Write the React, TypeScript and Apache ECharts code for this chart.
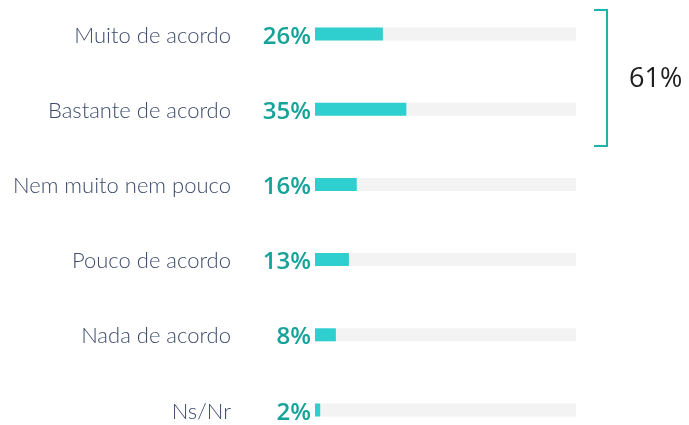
import React, { useEffect, useRef } from "react";
import * as echarts from "echarts";

const categories = [
  "Muito de acordo",
  "Bastante de acordo",
  "Nem muito nem pouco",
  "Pouco de acordo",
  "Nada de acordo",
  "Ns/Nr",
];
const values = [26, 35, 16, 13, 8, 2];
const maxValue = 100;
const bracketLabel = "61%";

export default function App() {
  const ref = useRef<HTMLDivElement>(null);
  useEffect(() => {
    if (!ref.current) return;
    const chart = echarts.init(ref.current, undefined, { renderer: "svg" });
    chart.setOption({
      animation: false,
      grid: { left: 315, right: 113, top: 34, bottom: 15, containLabel: false },
      xAxis: {
        type: "value",
        min: 0,
        max: maxValue,
        show: false,
      },
      yAxis: {
        type: "category",
        data: categories,
        inverse: true,
        boundaryGap: false,
        axisLine: { show: false },
        axisTick: { show: false },
        splitLine: { show: false },
        axisLabel: {
          margin: 84,
          fontSize: 22,
          lineHeight: 18,
          color: "#3d4b6b",
          fontFamily: "Lato",
          fontWeight: 300,
        },
      },
      series: [
        {
          type: "bar",
          data: categories.map(() => maxValue),
          barWidth: 13,
          barGap: "-100%",
          itemStyle: { color: "#f3f3f3" },
          silent: true,
          z: 1,
        },
        {
          type: "bar",
          data: values,
          barWidth: 13,
          itemStyle: { color: "#30cfcf" },
          z: 2,
          label: {
            show: true,
            position: "left",
            distance: 4,
            formatter: "{c}%",
            fontSize: 24,
            lineHeight: 18,
            fontWeight: 600,
            fontFamily: "Open Sans",
            color: "#16a399",
          },
        },
      ],
      graphic: [
        {
          type: "polyline",
          shape: {
            points: [
              [594, 10],
              [607, 10],
              [607, 146],
              [594, 146],
            ],
          },
          style: { stroke: "#1fb3ad", lineWidth: 2, fill: "none" },
        },
        {
          type: "text",
          x: 629,
          y: 76,
          style: {
            text: bracketLabel,
            fontSize: 27,
            fontFamily: "Open Sans",
            fontWeight: 500,
            fill: "#1e1e1e",
            verticalAlign: "middle",
          },
        },
      ],
    });
    return () => chart.dispose();
  }, []);
  return (
    <div
      ref={ref}
      style={{ position: "fixed", left: 0, top: 0, width: 689, height: 425 }}
    />
  );
}
